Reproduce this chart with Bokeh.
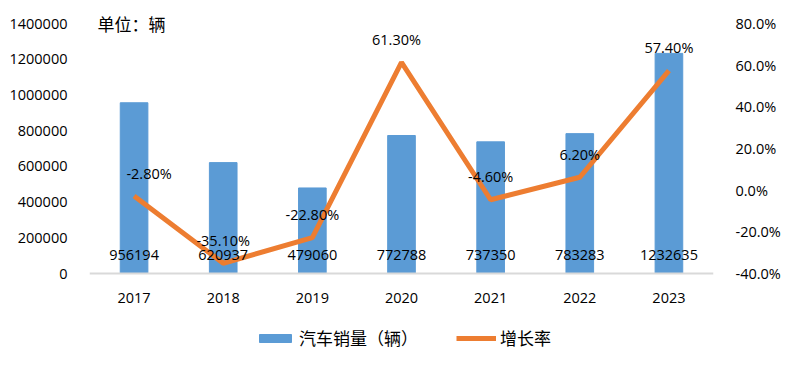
from bokeh.plotting import figure
from bokeh.models import (ColumnDataSource, Range1d, LinearAxis, FixedTicker, NumeralTickFormatter,
                          PrintfTickFormatter, LabelSet, Label, Legend, LegendItem, Span)
from bokeh.core.properties import value
from bokeh.embed import file_html
from bokeh.resources import INLINE

years = ["2017", "2018", "2019", "2020", "2021", "2022", "2023"]
sales = [956194, 620937, 479060, 772788, 737350, 783283, 1232635]
growth = [-2.8, -35.1, -22.8, 61.3, -4.6, 6.2, 57.4]
growth_labels = ["-2.80%", "-35.10%", "-22.80%", "61.30%", "-4.60%", "6.20%", "57.40%"]
left_ticks = [0, 200000, 400000, 600000, 800000, 1000000, 1200000, 1400000]
right_ticks = [-40, -20, 0, 20, 40, 60, 80]

# style: horizontal nudges of the growth labels (px)
label_dx = [15, 0, 0, -5, 0, 0, 0]

BLUE = "#5B9BD5"
ORANGE = "#ED7D31"
FONT = "Open Sans"
CJK = "Noto Sans CJK SC"

src = ColumnDataSource(dict(years=years, sales=sales, growth=growth,
                            glab=growth_labels, slab=[str(s) for s in sales],
                            zero=[0] * len(years), dx=label_dx))

# frame: 10px headroom above the top tick, 250px between 0 and top tick, 77px below 0 for x labels + legend
PX = 1400000 / 250.0
p = figure(x_range=years, y_range=Range1d(-77 * PX, 1400000 + 10 * PX), width=785, height=350,
           output_backend="svg", toolbar_location=None,
           min_border_left=89, min_border_right=72, min_border_top=13, min_border_bottom=0)
p.outline_line_color = None
p.xgrid.visible = False
p.ygrid.visible = False
RPX = 120 / 250.0
p.extra_y_ranges = {"pct": Range1d(-40 - 77 * RPX, 80 + 10 * RPX)}

bars = p.vbar(x="years", top="sales", width=0.31, source=src, color=BLUE)
line = p.line(x="years", y="growth", source=src, y_range_name="pct", color=ORANGE, line_width=5)

# baseline (category axis line)
p.add_layout(Span(location=0, dimension="width", line_color="#D9D9D9", line_width=2))

# axes
p.xaxis.visible = False
p.yaxis.ticker = FixedTicker(ticks=left_ticks)
p.yaxis.formatter = NumeralTickFormatter(format="0")
ya = p.yaxis[0]
ya.axis_line_color = None
ya.major_tick_line_color = None
ya.minor_tick_line_color = None
ya.major_label_text_font = FONT
ya.major_label_text_font_size = "14.5px"
ya.major_label_text_color = "#000000"
ya.major_label_standoff = 16

ra = LinearAxis(y_range_name="pct", ticker=FixedTicker(ticks=right_ticks),
                formatter=PrintfTickFormatter(format="%.1f%%"))
ra.axis_line_color = None
ra.major_tick_line_color = None
ra.minor_tick_line_color = None
ra.major_label_text_font = FONT
ra.major_label_text_font_size = "14.5px"
ra.major_label_text_color = "#000000"
ra.major_label_standoff = 16
p.add_layout(ra, "right")

# category labels under the baseline
p.add_layout(LabelSet(x="years", y="zero", text="years", source=src, y_offset=-24,
                      text_align="center", text_baseline="middle",
                      text_font=value(FONT), text_font_size="14.5px", text_color="#000000"))

# data labels
p.add_layout(LabelSet(x="years", y="zero", text="slab", source=src, y_offset=19,
                      text_align="center", text_baseline="middle",
                      text_font=value(FONT), text_font_size="14.5px", text_color="#000000"))
p.add_layout(LabelSet(x="years", y="growth", text="glab", source=src, y_range_name="pct",
                      y_offset=23, x_offset="dx", text_align="center", text_baseline="middle",
                      text_font=value(FONT), text_font_size="14.5px", text_color="#000000"))

p.add_layout(Label(x=0.09, y=1400000, text="单位：辆", text_align="left", text_baseline="middle",
                   text_font=CJK, text_font_size="17px", text_color="#000000"))

legend = Legend(items=[LegendItem(label="汽车销量（辆）", renderers=[bars]),
                       LegendItem(label="增长率", renderers=[line])],
                orientation="horizontal", location=(166, 0),
                label_text_font=CJK, label_text_font_size="17px", label_text_color="#000000",
                glyph_width=40, glyph_height=10, spacing=38, padding=0, margin=0,
                label_standoff=4, border_line_color=None, background_fill_alpha=0)
p.add_layout(legend, "center")

open("out.html", "w").write(file_html(p, INLINE))
